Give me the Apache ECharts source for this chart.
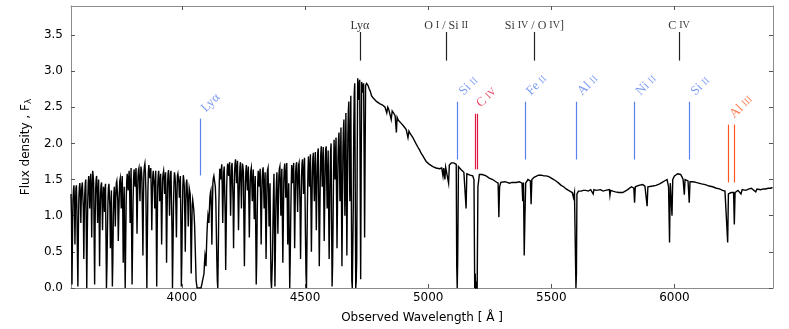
<!DOCTYPE html>
<html><head><meta charset="utf-8">
<script src="https://cdn.jsdelivr.net/npm/echarts@6/dist/echarts.min.js"></script>
<style>html,body{margin:0;padding:0;background:#fff}#c{width:789px;height:329px}</style>
</head><body><div id="c"></div>
<script>
// ---- data ----
const xTicks = [4000, 4500, 5000, 5500, 6000];
const yTicks = [0, 0.5, 1.0, 1.5, 2.0, 2.5, 3.0, 3.5];

const forest1 = [[3550,1.30],[3552,1.00],[3554,0.05],[3556,0.70],[3558,1.20],[3560,1.35],[3562,1.42],[3564,1.20],[3566,0.60],[3568,1.10],[3570,1.38],[3572,1.42],[3574,1.10],[3576,0.50],[3578,0.02],[3580,0.80],[3582,1.25],[3584,1.40],[3586,1.45],[3588,1.30],[3590,0.90],[3592,1.30],[3594,1.40],[3596,1.46],[3598,1.48],[3600,1.10],[3602,0.40],[3604,1.00],[3606,1.30],[3608,1.45],[3610,1.50],[3612,0.80],[3614,0.00],[3616,0.70],[3618,1.20],[3620,1.45],[3622,1.55],[3624,1.40],[3626,1.10],[3628,1.45],[3630,1.58],[3632,1.30],[3634,0.70],[3636,1.35],[3638,1.62],[3640,1.55],[3642,1.45],[3644,0.70],[3646,0.05],[3648,0.90],[3650,1.35],[3652,1.50],[3654,1.55],[3656,1.30],[3658,0.90],[3660,1.30],[3662,1.50],
[3664,1.10],[3666,0.30],[3668,0.90],[3670,1.30],[3672,1.42],[3674,1.46],[3676,1.20],[3678,0.80],[3680,1.20],[3682,1.40],[3684,1.30],[3686,1.05],[3688,1.35],[3690,1.44],[3692,0.70],[3694,0.00],[3696,0.30],[3698,0.80],[3700,1.20],[3702,1.38],[3704,1.44],[3706,1.42],[3708,1.10],[3710,0.55],[3712,1.10],[3714,1.35],[3716,0.60],[3718,0.02],[3720,0.40],[3722,1.00],[3724,1.30],[3726,1.40],[3728,1.20],[3730,0.85],[3732,1.25],[3734,1.45],[3736,1.48],[3738,1.50],[3740,1.20],[3742,0.65],[3744,1.00],[3746,1.30],[3748,1.48],[3750,1.52],[3752,1.35],[3754,1.10],[3756,1.40],[3758,1.55],[3760,1.10],[3762,0.35],[3764,1.00],[3766,1.40],[3768,0.60],[3770,0.00],[3772,0.60],[3774,1.20],[3776,1.45],[3778,1.58],[3780,1.50],[3782,1.35],[3784,1.50],[3786,1.62]];

const forest2 = [[3788,1.40],[3790,0.90],[3792,1.40],[3794,1.66],[3796,0.80],[3798,0.05],[3800,0.60],[3802,1.20],[3804,1.50],[3806,1.64],[3808,1.55],[3810,1.40],[3812,1.55],[3814,1.66],[3816,1.30],[3818,0.75],[3820,1.20],[3822,1.55],[3824,1.63],[3826,1.66],[3828,1.45],[3830,1.20],[3832,1.50],[3834,1.68],[3836,1.62],[3838,1.50],[3840,1.00],[3842,0.45],[3844,1.20],[3846,1.60],[3848,1.68],[3850,1.72],[3852,1.60],[3854,1.35],[3856,0.60],[3858,0.00],[3860,0.70],[3862,1.30],[3864,1.60],[3866,1.70],[3868,1.62],[3870,1.52],[3872,1.60],[3874,1.66],[3876,1.30],[3878,0.80],[3880,1.25],[3882,1.55],[3884,1.62],[3886,1.64],[3888,1.40],[3890,1.10],[3892,1.45],[3894,1.62],[3896,0.90],[3898,0.02],[3900,0.80],[3902,1.40],[3904,1.55],[3906,1.62],
[3908,1.45],[3910,1.20],[3912,1.45],[3914,1.58],[3916,1.20],[3918,0.60],[3920,1.10],[3922,1.50],[3924,1.58],[3926,1.62],[3928,1.50],[3930,1.30],[3932,1.48],[3934,1.60],[3936,1.10],[3938,0.35],[3940,1.00],[3942,1.45],[3944,1.58],[3946,1.63],[3948,1.40],[3950,1.00],[3952,1.35],[3954,1.58],[3956,1.62],[3958,1.64],[3960,0.80],[3962,0.00],[3964,0.50],[3966,1.10],[3968,1.45],[3970,1.60],[3972,1.55],[3974,1.45],[3976,1.10],[3978,0.70],[3980,1.20],[3982,1.55],[3984,1.58],[3986,1.60],[3988,1.45],[3990,1.25],[3992,1.45],[3994,1.55],[3996,0.90],[3998,0.02],[4000,0.40],[4002,1.00],[4004,1.40],[4006,1.56],[4008,1.50],[4010,1.40],[4012,1.00],[4014,0.50],[4016,1.10],[4018,1.45],[4020,1.50],[4022,1.50],[4024,1.20],[4026,0.85],[4028,1.20],[4030,1.38],[4032,1.36],[4034,1.30],[4036,0.80],[4038,0.20],[4040,0.70],[4042,1.15],[4044,1.22],[4046,1.20],[4048,1.10],[4050,1.00],[4052,0.85],[4054,0.60],[4056,0.35],[4058,0.10],[4062,0.00],[4070,0.02],[4078,0.00],[4086,0.02],[4090,0.20],[4092,0.35],[4094,0.45],[4096,0.40],[4098,0.30],[4100,0.55],[4102,0.75],[4104,0.90],[4106,1.00],[4108,0.95],[4110,0.90],[4112,1.10],[4114,1.25],[4116,1.32],[4118,1.35],[4120,1.00],[4122,0.60],[4124,1.10],[4126,1.45],[4128,1.52],[4130,1.55]];

const forest3 = [[4132,1.57],[4134,1.57],[4136,1.40],[4138,1.20],[4140,0.80],[4142,0.40],[4144,0.10],[4146,0.00],[4148,0.50],[4150,1.10],[4152,1.45],[4154,1.65],[4156,1.60],[4158,1.50],[4160,1.62],[4162,1.71],[4164,1.40],[4166,0.90],[4168,1.30],[4170,1.60],[4172,1.68],[4174,1.70],[4176,1.00],[4178,0.25],[4180,0.80],[4182,1.40],[4184,1.62],[4186,1.72],[4188,1.65],[4190,1.55],[4192,1.68],[4194,1.74],[4196,1.40],[4198,1.00],[4200,1.40],[4202,1.68],[4204,1.73],[4206,1.75],[4208,1.20],[4210,0.55],[4212,1.10],[4214,1.60],[4216,1.72],[4218,1.78],[4220,1.62],[4222,1.45],[4224,1.65],[4226,1.76],[4228,1.30],[4230,0.80],[4232,1.20],[4234,1.50],[4236,1.68],[4238,1.74],[4240,1.45],[4242,1.10],[4244,1.50],[4246,1.72],[4248,1.68],[4250,1.60],[4252,0.90],[4254,0.30],[4256,0.90],[4258,1.45],[4260,1.62],[4262,1.70],[4264,1.50],[4266,1.35],[4268,1.55],[4270,1.68],[4272,1.20],[4274,0.70],[4276,1.15],[4278,1.50],[4280,1.62],[4282,1.66],[4284,1.45],[4286,1.20],[4288,1.45],[4290,1.64],[4292,1.30],[4294,0.95],[4296,1.30],[4298,1.55],[4300,0.80],[4302,0.05],[4304,0.40],[4306,1.00],[4308,1.45],[4310,1.62],[4312,1.55],[4314,1.40],[4316,1.55],[4318,1.65],
[4320,1.20],[4322,0.60],[4324,1.10],[4326,1.50],[4328,1.62],[4330,1.67],[4332,1.40],[4334,1.10],[4336,1.40],[4338,1.60],[4340,1.00],[4342,0.40],[4344,1.00],[4346,1.55],[4348,1.63],[4350,1.66],[4352,1.30],[4354,0.85],[4356,1.20],[4358,1.45],[4360,0.70],[4362,0.10],[4364,0.00],[4366,0.00],[4368,0.40],[4370,0.90],[4372,1.30],[4374,1.58],[4376,0.80],[4378,0.02],[4380,0.60],[4382,1.20],[4384,1.45],[4386,1.60],[4388,1.20],[4390,0.75],[4392,1.20],[4394,1.55],[4396,1.65],[4398,1.68],[4400,1.40],[4402,1.00],[4404,1.40],[4406,1.65],[4408,1.00],[4410,0.35],[4412,0.90],[4414,1.50],[4416,1.66],[4418,1.72],[4420,1.50],[4422,1.25],[4424,1.55],[4426,1.73],[4428,1.20],[4430,0.60],[4432,1.10],[4434,1.45],[4436,0.70],[4438,0.00],[4440,0.40],[4442,0.95],[4444,1.40],[4446,1.70],[4448,1.60],[4450,1.45],[4452,1.62],[4454,1.73],[4456,1.20],[4458,0.55],[4460,1.10],[4462,1.60],[4464,1.70],[4466,1.74],[4468,1.40],[4470,1.05],[4472,1.45],[4474,1.70],[4476,1.73],[4478,1.75],[4480,1.10],[4482,0.40],[4484,1.00],[4486,1.55],[4488,1.72],[4490,1.78],[4492,1.55],[4494,1.30],[4496,1.60],[4498,1.80],[4500,1.30],[4502,0.70],[4504,0.20],[4506,0.00],[4508,0.60],[4510,1.20],[4512,1.60],[4514,1.82]];

const forest4 = [[4516,1.65],[4518,1.40],[4520,1.65],[4522,1.85],[4524,1.20],[4526,0.50],[4528,1.10],[4530,1.60],[4532,1.80],[4534,1.87],[4536,1.55],[4538,1.20],[4540,1.60],[4542,1.88],[4544,1.40],[4546,0.80],[4548,1.30],[4550,1.70],[4552,1.88],[4554,1.93],[4556,1.10],[4558,0.30],[4560,0.90],[4562,1.50],[4564,1.85],[4566,1.96],[4568,1.70],[4570,1.40],[4572,1.75],[4574,1.95],[4576,1.30],[4578,0.65],[4580,1.20],[4582,1.75],[4584,1.92],[4586,1.96],[4588,1.50],[4590,1.10],[4592,1.55],[4594,1.90],[4596,1.10],[4598,0.40],[4600,1.00],[4602,1.60],[4604,1.90],[4606,2.00],[4608,0.90],[4610,0.02],[4612,0.30],[4614,0.90],[4616,1.60],[4618,2.05],[4620,1.80],[4622,1.50],[4624,1.85],[4626,2.08],[4628,1.30],[4630,0.55],[4632,1.20],[4634,1.80],[4636,2.05],[4638,2.15],[4640,1.70],[4642,1.20],[4644,1.80],[4646,2.22],[4648,1.20],[4650,0.30],[4652,1.10],[4654,1.90],[4656,2.20],[4658,2.33],[4660,1.60],[4662,1.00],[4664,1.80],[4666,2.42],[4668,1.40],[4670,0.45],[4672,1.30],[4674,2.10],[4676,2.45],[4678,2.58],[4680,1.90],[4682,1.20],[4684,2.00],[4686,2.66],[4688,1.30],[4690,0.10],[4692,0.00],[4694,0.00],[4696,1.10],[4698,2.20],[4700,2.70],[4702,2.83],[4704,1.40],[4706,0.00],[4708,0.10],[4710,0.40],[4712,1.80],[4714,2.90],[4716,2.80],[4718,2.60],[4720,2.80],[4722,2.88],[4724,1.50],[4726,0.12],[4728,1.60],[4730,2.85],[4732,2.80],[4734,2.70],[4736,2.78],[4738,2.83],[4740,1.80],[4742,0.70],[4744,1.80],[4746,2.80],[4748,2.82],[4750,2.83]];

const redSide = [[4756,2.80],[4760,2.76],[4765,2.72],[4770,2.66],[4776,2.63],[4783,2.61],[4790,2.58],[4796,2.57],[4803,2.55],[4809,2.54],[4815,2.53],[4820,2.51],[4825,2.50],[4832,2.42],[4836,2.50],[4840,2.47],[4845,2.46],[4850,2.33],[4854,2.45],[4860,2.42],[4866,2.38],[4871,2.15],[4874,2.36],[4879,2.32],[4884,2.30],[4890,2.28],[4895,2.26],[4900,2.24],[4905,2.22],[4911,2.19],[4918,2.08],[4922,2.17],[4926,2.14],[4930,2.12],[4938,2.08],[4944,2.04],[4950,2.00],[4958,1.95],[4965,1.91],[4972,1.86],[4978,1.83],[4985,1.79],[4992,1.75],[4998,1.73],[5005,1.71],[5012,1.69],[5019,1.68],[5025,1.67],[5032,1.66],[5039,1.65],[5046,1.65],[5050,1.64],[5055,1.66],[5060,1.55],[5063,1.66],[5068,1.50],[5071,1.67],[5078,1.68],[5083,1.45],[5086,1.70],[5090,1.72],[5094,1.73],[5100,1.74],[5104,1.73],[5108,1.73],[5114,1.71],[5116,0.30],[5118,0.00],[5120,0.40],[5123,1.68],[5127,1.66],[5133,1.64],[5140,1.62],[5145,1.60],[5150,1.58],[5154,1.10],[5157,1.58],[5163,1.57],[5170,1.56],[5176,1.55],[5181,1.55],[5186,1.50],[5189,0.00],[5191,0.20],[5193,0.00],[5196,0.05],[5199,0.00],[5202,1.40],[5208,1.57],[5214,1.58],[5220,1.57],[5228,1.56],[5235,1.55],[5242,1.53],[5248,1.52],[5255,1.51],[5262,1.50],[5268,1.48],[5275,1.47],[5284,1.45],[5287,0.98],[5290,1.40],[5295,1.46],[5303,1.46],[5312,1.47],[5320,1.47],[5330,1.45],[5340,1.46],[5348,1.47],[5357,1.46],[5364,1.45],[5370,1.47],[5381,1.45],[5384,1.20],[5387,1.46],[5390,0.45],[5393,1.00],[5396,1.45],[5405,1.50],[5410,1.49],[5415,1.48],[5418,1.16],[5421,1.50],[5430,1.53],[5438,1.55],[5448,1.56],[5460,1.56],[5470,1.55],[5479,1.55],[5490,1.54],[5500,1.52],[5510,1.50],[5519,1.48],[5530,1.45],[5540,1.42],[5550,1.40],[5560,1.37],[5568,1.35],[5575,1.34],[5585,1.32],[5590,1.25],[5594,1.32],[5598,1.30],[5600,0.00],[5602,0.20],[5604,1.30],[5610,1.34],[5615,1.33],[5621,1.34],[5630,1.35],[5640,1.35],[5650,1.34],[5660,1.36],[5670,1.30],[5673,1.36],[5682,1.35],[5690,1.36],[5700,1.36],[5710,1.34],[5720,1.35],[5728,1.36],[5736,1.36],[5738,1.28],[5741,1.35],[5750,1.34],[5760,1.33],[5775,1.32],[5790,1.32],[5800,1.34],[5810,1.36],[5818,1.38],[5825,1.40],[5835,1.38],[5838,1.18],[5841,1.40],[5848,1.41],[5855,1.42],[5863,1.43],[5871,1.43],[5880,1.41],[5885,1.40],[5889,1.13],[5892,1.40],[5900,1.40],[5912,1.41],[5925,1.42],[5932,1.43],[5940,1.44],[5950,1.46],[5959,1.48],[5965,1.49],[5970,1.50],[5976,1.40],[5980,0.63],[5983,1.45],[5987,1.45],[5990,1.00],[5993,1.50],[6000,1.55],[6007,1.57],[6013,1.58],[6019,1.58],[6025,1.57],[6030,1.54],[6035,1.50],[6040,1.29],[6043,1.50],[6050,1.49],[6055,1.48],[6060,1.18],[6063,1.47],[6070,1.47],[6075,1.47],[6087,1.46],[6098,1.45],[6110,1.44],[6125,1.43],[6141,1.41],[6155,1.40],[6170,1.38],[6183,1.37],[6195,1.35],[6205,1.34],[6212,1.32],[6216,0.63],[6219,1.30],[6225,1.31],[6230,1.32],[6236,1.33],[6240,1.32],[6243,0.88],[6246,1.32],[6252,1.33],[6258,1.35],[6263,1.34],[6270,1.30],[6275,1.36],[6280,1.36],[6290,1.35],[6303,1.37],[6312,1.38],[6320,1.36],[6330,1.33],[6335,1.37],[6340,1.38],[6350,1.36],[6360,1.37],[6370,1.37],[6380,1.38],[6390,1.38],[6398,1.39]];

// emission features (top labels) and absorber features
const emissionNames = ['Lyα', 'O I / Si II', 'Si IV / O IV]', 'C IV'];
const emissionWaves = [4723, 5073, 5431, 6018];
const absNames = ['Lyα', 'Si II', 'Fe II', 'Al II', 'Ni II', 'Si II'];
const absWaves = [4073, 5120, 5393, 5601, 5838, 6061];
const civName = 'C IV';
const civWaves = [5190, 5198];
const al3Name = 'Al III';
const al3Waves = [6219, 6243];

// ---- styling ----
const spectrum = [].concat(forest1, forest2, forest3, forest4, redSide);
const FRAME = '#8c8c8c', TICK = '#555';
const BLUE = '#5a82ee', CRIMSON = '#e0163f', ORANGE = '#ff5722';
const SERIF = 'Liberation Serif';
const SANS = 'DejaVu Sans';

function sc(name) {
  return name.split(' ').map(w => {
    const m = w.match(/^([IV]+)(\]?)$/);
    return m ? '{sc|' + m[1] + '}' + (m[2] ? '{n|' + m[2] + '}' : '') : '{n|' + w + '}';
  }).join('{n| }');
}
const richSC = (color, size) => ({
  n: { fontFamily: SERIF, fontSize: size, color: color },
  sc: { fontFamily: SERIF, fontSize: Math.round(size * 0.8), color: color, verticalAlign: 'bottom', padding: [0, 0, 1, 0] }
});

// marker line y-extents (data units)
const EM = [3.145, 3.54];
const ABS_LYA = [1.556, 2.342];
const ABS = [1.777, 2.576];
const CIV = [1.64, 2.41];
const AL3 = [1.46, 2.26];

function vline(w, ext, color) {
  return [{ coord: [w, ext[0]], lineStyle: { color: color, width: 1.2, type: 'solid' } }, { coord: [w, ext[1]] }];
}
const markLines = [];
emissionWaves.forEach(w => markLines.push(vline(w, EM, '#222')));
absWaves.forEach((w, i) => markLines.push(vline(w, i === 0 ? ABS_LYA : ABS, BLUE)));
civWaves.forEach(w => markLines.push(vline(w, CIV, CRIMSON)));
al3Waves.forEach(w => markLines.push(vline(w, AL3, ORANGE)));

function rotLabel(w, top, name, color) {
  return {
    value: [w, top], name: name,
    label: { show: true, formatter: () => sc(name), position: [4, -8], align: 'left', verticalAlign: 'middle', rotate: 45, rich: richSC(color, 13) }
  };
}
const rotData = absWaves.map((w, i) => rotLabel(w, i === 0 ? ABS_LYA[1] : ABS[1], absNames[i], BLUE));
rotData.push(rotLabel(civWaves[0], CIV[1], civName, CRIMSON));
rotData.push(rotLabel(al3Waves[0], AL3[1], al3Name, ORANGE));

const chart = echarts.init(document.getElementById('c'), null, { renderer: 'canvas' });
const baseX = {
  type: 'value', min: 3550, max: 6400, splitLine: { show: false },
  axisLine: { show: true, onZero: false, lineStyle: { color: FRAME, width: 1 } },
  axisTick: { show: true, inside: true, length: 4, customValues: xTicks, lineStyle: { color: TICK } }
};
const baseY = {
  type: 'value', min: 0, max: 3.9, splitLine: { show: false },
  axisLine: { show: true, onZero: false, lineStyle: { color: FRAME, width: 1 } },
  axisTick: { show: true, inside: true, length: 4, customValues: yTicks, lineStyle: { color: TICK } }
};
chart.setOption({
  animation: false,
  backgroundColor: '#fff',
  grid: { left: 71, right: 16, top: 6, bottom: 40, containLabel: false },
  xAxis: [
    Object.assign({}, baseX, {
      position: 'bottom',
      axisLabel: { customValues: xTicks, margin: 4, color: '#000', fontFamily: SANS, fontSize: 12, formatter: v => String(v) },
      name: 'Observed Wavelength [ Å ]', nameLocation: 'middle', nameGap: 24,
      nameTextStyle: { color: '#000', fontFamily: SANS, fontSize: 12 }
    }),
    Object.assign({}, baseX, { position: 'top', axisLabel: { show: false } })
  ],
  yAxis: [
    Object.assign({}, baseY, {
      position: 'left',
      axisLabel: { customValues: yTicks, margin: 8, color: '#000', fontFamily: SANS, fontSize: 12, formatter: v => v.toFixed(1) },
      name: '{a|Flux density , F}{b|λ}', nameLocation: 'middle', nameGap: 30,
      nameTextStyle: { color: '#000', fontFamily: SANS, fontSize: 12,
        rich: { a: { fontFamily: SANS, fontSize: 12, color: '#000' }, b: { fontFamily: SANS, fontSize: 9, color: '#000', verticalAlign: 'bottom', padding: [5, 0, 0, 0] } } }
    }),
    Object.assign({}, baseY, { position: 'right', axisLabel: { show: false } })
  ],
  series: [
    {
      type: 'line', data: spectrum, xAxisIndex: 0, yAxisIndex: 0,
      symbol: 'none', showSymbol: false, silent: true,
      lineStyle: { color: '#000', width: 1.4, join: 'miter' },
      markLine: { silent: true, symbol: ['none', 'none'], label: { show: false }, animation: false, data: markLines }
    },
    {
      type: 'scatter', symbolSize: 1, itemStyle: { color: 'rgba(0,0,0,0)' }, silent: true,
      data: emissionWaves.map((w, i) => ({ value: [w, EM[1]], name: emissionNames[i] })),
      label: { show: true, position: 'top', distance: 0, formatter: p => sc(p.name), rich: richSC('#000', 12) }
    },
    {
      type: 'scatter', symbolSize: 1, itemStyle: { color: 'rgba(0,0,0,0)' }, silent: true,
      data: rotData
    }
  ]
});
</script></body></html>
